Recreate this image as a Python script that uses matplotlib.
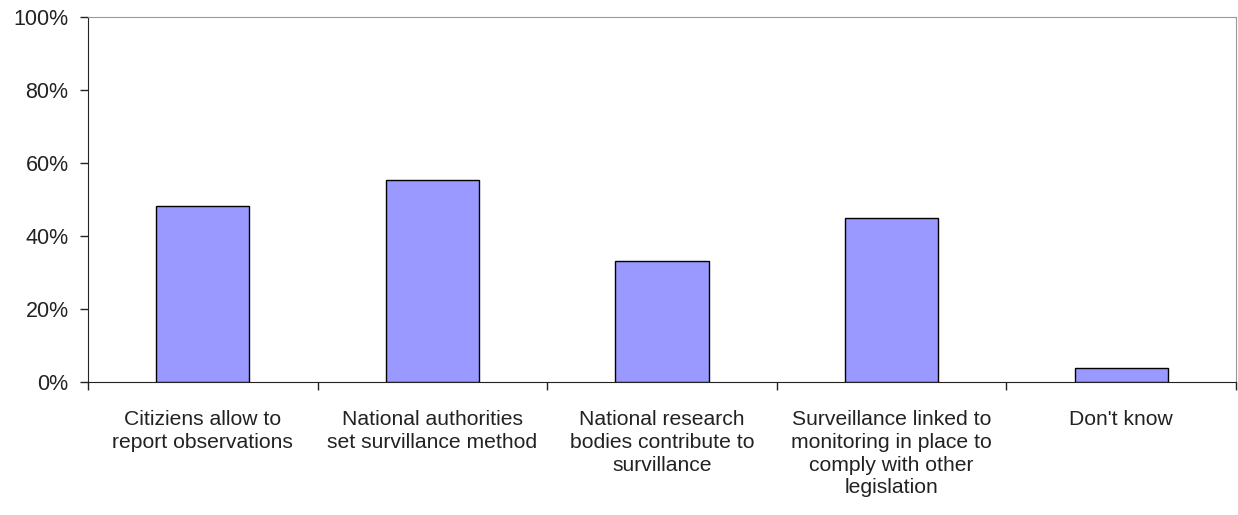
import matplotlib
matplotlib.use("Agg")
import matplotlib.pyplot as plt
import matplotlib.ticker as plticker
import numpy as np

categories = ["Citiziens allow to\nreport observations",
              "National authorities\nset survillance method",
              "National research\nbodies contribute to\nsurvillance",
              "Surveillance linked to\nmonitoring in place to\ncomply with other\nlegislation",
              "Don't know"]
values = [48.2, 55.3, 33.2, 44.9, 3.8]

plt.rcParams['font.family'] = ['Liberation Sans', 'DejaVu Sans']

fig = plt.figure(figsize=(12.38, 5.15), dpi=100)
ax = fig.add_axes([88/1238, 1-382/515, (1236-88)/1238, (382-17)/515])

x = np.arange(len(categories))
ax.bar(x, values, width=0.406, color='#9999FF', edgecolor='black', linewidth=1.0, zorder=3)

ax.set_xlim(-0.5, len(categories)-0.5)
ax.set_ylim(0, 100)

ax.yaxis.set_major_locator(plticker.MultipleLocator(20))
ax.yaxis.set_major_formatter(plticker.FuncFormatter(lambda v, p: "%d%%" % v))
ax.tick_params(axis='y', direction='out', length=6, width=1, pad=8, labelsize=15.5, colors='#222222')

ax.set_xticks(x)
ax.set_xticklabels(categories, linespacing=1.26)
ax.set_xticks(np.arange(len(categories)+1)-0.5, minor=True)
ax.tick_params(axis='x', which='major', length=0, pad=20, labelsize=15.2, colors='#222222')
ax.tick_params(axis='x', which='minor', direction='out', length=6, width=1, color='#222222')

ax.spines['left'].set_color('#222222')
ax.spines['bottom'].set_color('#222222')
ax.spines['top'].set_color('#999999')
ax.spines['right'].set_color('#999999')

fig.savefig("out.png", dpi=100)
